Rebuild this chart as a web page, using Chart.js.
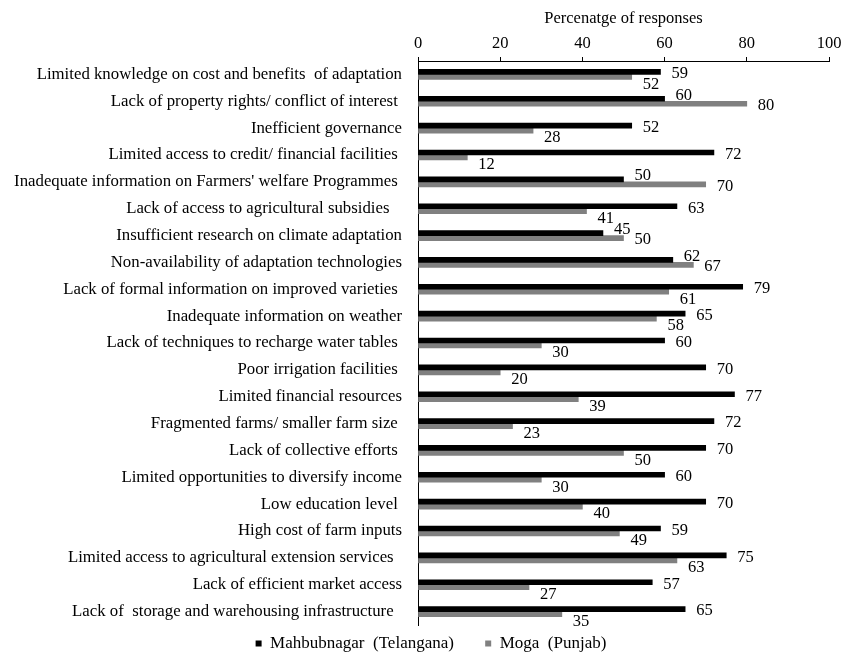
<!DOCTYPE html>
<html>
<head>
<meta charset="utf-8">
<script src="https://cdn.jsdelivr.net/npm/chart.js@4/dist/chart.umd.min.js"></script>
<style>
html,body{margin:0;padding:0;background:#fff;}
canvas{display:block;}
</style>
</head>
<body>
<canvas id="c" width="841" height="653"></canvas>
<script>
// ---- data ----
const categories = [
  "Limited knowledge on cost and benefits  of adaptation",
  "Lack of property rights/ conflict of interest ",
  "Inefficient governance",
  "Limited access to credit/ financial facilities ",
  "Inadequate information on Farmers' welfare Programmes ",
  "Lack of access to agricultural subsidies   ",
  "Insufficient research on climate adaptation",
  "Non-availability of adaptation technologies",
  "Lack of formal information on improved varieties ",
  "Inadequate information on weather",
  "Lack of techniques to recharge water tables ",
  "Poor irrigation facilities ",
  "Limited financial resources",
  "Fragmented farms/ smaller farm size ",
  "Lack of collective efforts ",
  "Limited opportunities to diversify income",
  "Low education level ",
  "High cost of farm inputs",
  "Limited access to agricultural extension services  ",
  "Lack of efficient market access",
  "Lack of  storage and warehousing infrastructure  "
];
const mahbubnagar = [59, 60, 52, 72, 50, 63, 45, 62, 79, 65, 60, 70, 77, 72, 70, 60, 70, 59, 75, 57, 65];
const moga        = [52, 80, 28, 12, 70, 41, 50, 67, 61, 58, 30, 20, 39, 23, 50, 30, 40, 49, 63, 27, 35];
const seriesNames = ["Mahbubnagar  (Telangana)", "Moga  (Punjab)"];
const axisTitle = "Percenatge of responses";
const xMin = 0, xMax = 100, xStep = 20;

// ---- styling ----
const FONT = "'Liberation Serif', 'Times New Roman', serif";
const FS = 16.5;
const PAD_L = 33;

const valueLabels = {
  id: 'valueLabels',
  afterLayout(chart) {
    // let long category labels extend left of the padded area without clipping
    chart.scales.y.left = 0;
  },
  afterDatasetsDraw(chart) {
    const ctx = chart.ctx;
    const d0 = chart.data.datasets[0].data;
    const d1 = chart.data.datasets[1].data;
    ctx.save();
    ctx.font = FS + 'px ' + FONT;
    ctx.fillStyle = '#000';
    ctx.textAlign = 'left';
    ctx.textBaseline = 'middle';
    chart.data.datasets.forEach((ds, di) => {
      const meta = chart.getDatasetMeta(di);
      meta.data.forEach((bar, i) => {
        const grayLonger = d1[i] >= d0[i];
        let dy;
        if (di === 0) dy = grayLonger ? -3.5 : 2;
        else dy = grayLonger ? 2 : 7.5;
        ctx.fillText(String(ds.data[i]), bar.x + 11, bar.y + dy);
      });
    });
    ctx.restore();
  }
};

new Chart(document.getElementById('c'), {
  type: 'bar',
  data: {
    labels: categories,
    datasets: [
      { label: seriesNames[0], data: mahbubnagar, backgroundColor: '#000000', borderColor: '#000000', borderWidth: 0, barThickness: 5 },
      { label: seriesNames[1], data: moga, backgroundColor: '#808080', borderColor: '#808080', borderWidth: 0, barThickness: 5 }
    ]
  },
  options: {
    indexAxis: 'y',
    responsive: false,
    animation: false,
    layout: { padding: { left: PAD_L, right: 12, top: 0, bottom: 0 } },
    scales: {
      x: {
        position: 'top',
        min: xMin, max: xMax,
        ticks: { stepSize: xStep, padding: 3, color: '#000', font: { family: FONT, size: FS } },
        grid: { display: true, drawOnChartArea: false, drawTicks: true, tickLength: 4, color: '#000', lineWidth: 1 },
        border: { display: true, color: '#000', width: 1 },
        title: { display: true, text: axisTitle, color: '#000', font: { family: FONT, size: FS }, padding: { top: 9, bottom: 0 } },
        afterFit(s) { s.height = 61; s.paddingLeft = 0; s.paddingRight = 0; }
      },
      y: {
        ticks: { color: '#000', font: { family: FONT, size: 16.8 }, padding: 16, autoSkip: false },
        grid: { display: false, drawTicks: false },
        border: { display: true, color: '#000', width: 1 },
        afterFit(s) { s.width = 418 - PAD_L; s.paddingTop = 0; s.paddingBottom = 0; }
      }
    },
    plugins: {
      legend: {
        position: 'bottom',
        maxHeight: 28,
        labels: {
          boxWidth: 6, boxHeight: 6, padding: 10, color: '#000',
          font: { family: FONT, size: 17 },
          generateLabels(chart) {
            const items = Chart.defaults.plugins.legend.labels.generateLabels(chart);
            items[0].text = items[0].text + '     ';
            return items;
          }
        }
      },
      tooltip: { enabled: false }
    }
  },
  plugins: [valueLabels]
});
</script>
</body>
</html>
